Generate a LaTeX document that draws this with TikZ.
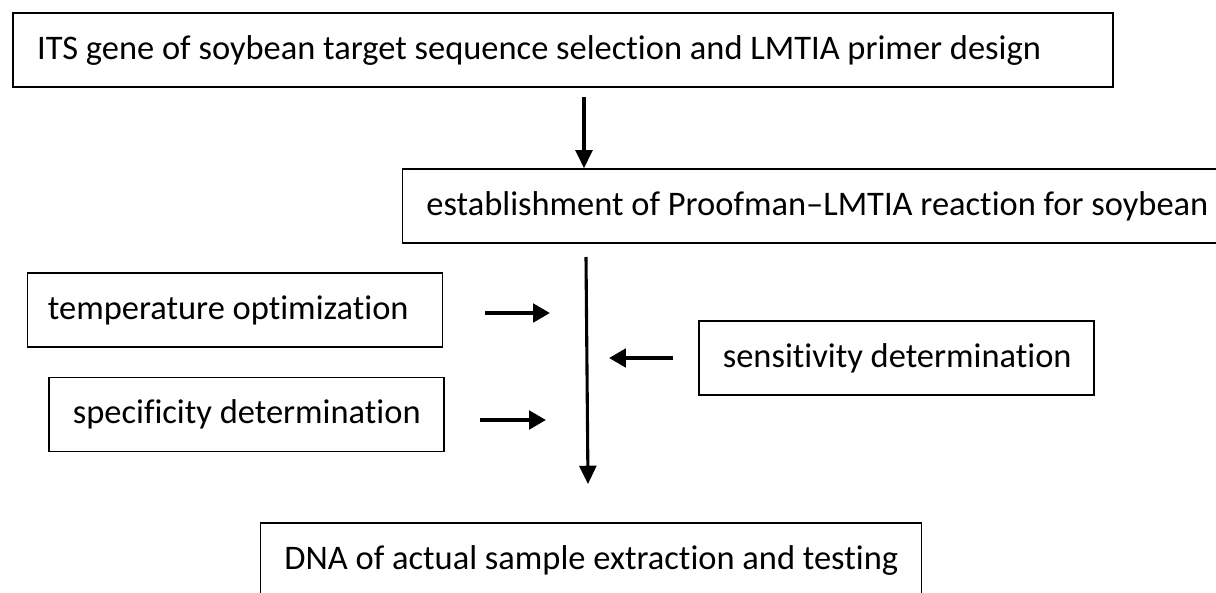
\documentclass[tikz,border=0pt]{standalone}
\usepackage{fontspec}
\setmainfont[Ligatures={NoCommon}]{Carlito}
\usepackage{tikz}
\usetikzlibrary{arrows.meta}

\newcommand{\boxtext}[2]{\makebox[#1][l]{#2}}

\tikzset{
	stepbox/.style={draw, line width=1.1pt, minimum height=52.5pt, inner xsep=17pt, inner ysep=0pt, font=\fontsize{24.5}{28}\selectfont},
	flow/.style={line width=2.2pt, -{Triangle[length=13pt, width=12pt]}},
	side/.style={line width=2.8pt, -{Triangle[length=12pt, width=13pt]}}
}

\begin{document}
\begin{tikzpicture}[x=0.025cm, y=-0.025cm]
			\useasboundingbox (0,0) rectangle (1216,592);
			\node[stepbox] (its) at (563,50) {\boxtext{748pt}{ITS gene of soybean target sequence selection and LMTIA primer design}};
			\node[stepbox] (est) at (814.5,206) {\boxtext{552pt}{establishment of Proofman–LMTIA reaction for soybean}};
			\node[stepbox, inner xsep=14.5pt] (temp) at (235,310) {\boxtext{266pt}{temperature optimization}};
			\node[stepbox] (spec) at (246.5,414.5) {\boxtext{247pt}{specificity determination}};
			\node[stepbox] (sens) at (896.5,358) {\boxtext{247pt}{sensitivity determination}};
			\node[stepbox] (dna) at (591,560) {\boxtext{436pt}{DNA of actual sample extraction and testing}};
			\coordinate (a1) at (584,97);
			\coordinate (m1) at (586,257);
			\coordinate (m2) at (588,484);
			\coordinate (t1) at (485,313);
			\coordinate (t2) at (550,313);
			\coordinate (s1) at (480,420);
			\coordinate (s2) at (546,420);
			\coordinate (n1) at (673,358);
			\coordinate (n2) at (609,358);
			\draw[flow] (a1) -- (a1 |- est.north);
			\draw[flow] (m1) -- (m2);
			\draw[side] (t1) -- (t2);
			\draw[side] (s1) -- (s2);
			\draw[side] (n1) -- (n2);
		\end{tikzpicture}
\end{document}
